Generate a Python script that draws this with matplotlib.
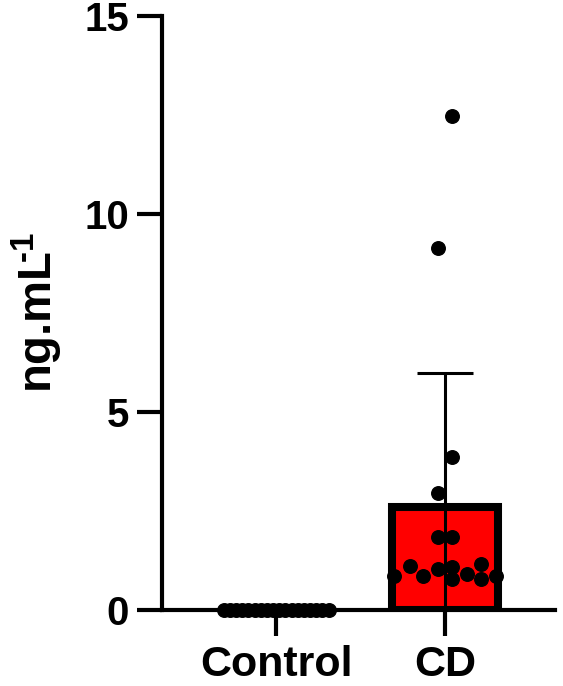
import matplotlib
matplotlib.use('Agg')
import matplotlib.pyplot as plt
import numpy as np

plt.rcParams['font.family'] = ['Liberation Sans', 'DejaVu Sans']
plt.rcParams['font.weight'] = 'bold'
plt.rcParams['mathtext.fontset'] = 'custom'
plt.rcParams['mathtext.rm'] = 'Liberation Sans:bold'
plt.rcParams['mathtext.bf'] = 'Liberation Sans:bold'
plt.rcParams['mathtext.default'] = 'rm'

groups = ['Control', 'CD']
control_vals = [0.0] * 18
cd_vals = [12.47, 9.14, 3.87, 2.95, 1.85, 1.84, 0.86, 1.11, 0.86, 1.03, 1.09, 0.77, 0.90, 1.16, 0.79, 0.86]
cd_jitter = [0.04, -0.04, 0.04, -0.04, -0.04, 0.04, -0.30, -0.21, -0.13, -0.04, 0.04, 0.04, 0.13, 0.21, 0.21, 0.30]
control_jitter = np.linspace(-0.31, 0.31, len(control_vals))

fig = plt.figure(figsize=(5.63, 6.86), dpi=100)
ax = fig.add_axes([0.288, 0.111, 0.698, 0.866])

data = [control_vals, cd_vals]
jit = [control_jitter, cd_jitter]
colors = ['red', 'red']
for i, vals in enumerate(data):
    m = np.mean(vals)
    sd = np.std(vals, ddof=1)
    ax.bar(i, m, width=0.63, color=colors[i], edgecolor='black', linewidth=5.8, zorder=2)
    if sd > 0:
        ax.vlines(i, 0, m + sd, color='black', linewidth=2.2, zorder=3)
        ax.hlines(m + sd, i - 0.165, i + 0.165, color='black', linewidth=2.2, zorder=3)
    ax.scatter(np.array(jit[i]) + i, vals, s=95, color='black', zorder=4, clip_on=False)

ax.set_xlim(-0.675, 1.651)
ax.set_ylim(0, 15)
ax.set_yticks([0, 5, 10, 15])
ax.set_xticks([0, 1])
ax.set_xticklabels(groups)
for s in ['top', 'right']:
    ax.spines[s].set_visible(False)
for s in ['left', 'bottom']:
    ax.spines[s].set_linewidth(3)
ax.tick_params(axis='y', width=3, length=18, labelsize=29, pad=6)
ax.tick_params(axis='x', width=3, length=19, labelsize=31, pad=6)
ax.set_ylabel(r'ng.mL$^{\!\!\text{-1}}$', fontsize=34, fontweight='bold', labelpad=14)

fig.savefig('out.png', dpi=100)
